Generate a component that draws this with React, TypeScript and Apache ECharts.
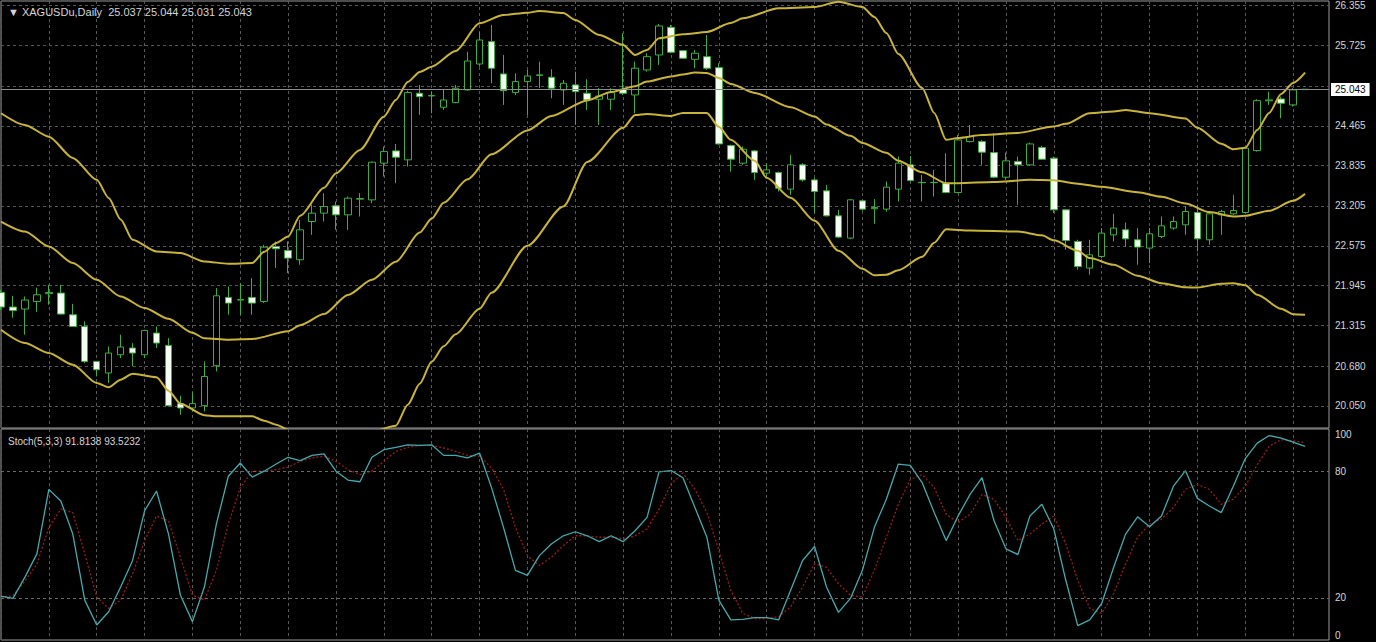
import React, { useEffect, useRef } from 'react';
import * as echarts from 'echarts';

const symbolName = 'XAGUSDu,Daily';

// Candles (index 0 .. 109), MT4 style OHLC
const opens = [
  21.84, 21.61, 21.578, 21.698, 21.82, 21.83, 21.488, 21.304, 20.753, 20.57,
  20.858, 20.964, 20.858, 21.2, 21.005, 20.087, 20.019, 20.055, 20.685, 21.761,
  21.72, 21.761, 21.698, 22.564, 22.501, 22.355, 22.958, 23.09, 23.205, 23.063,
  23.31, 23.299, 23.878, 24.071, 23.93, 24.98, 24.937, 24.759, 24.832, 25.032,
  25.441, 25.793, 25.284, 24.99, 25.163, 25.26, 25.232, 25.032, 25.111, 24.98,
  24.886, 24.886, 25.043, 24.953, 25.347, 25.583, 26.019, 25.651, 25.515, 25.556,
  25.383, 24.155, 23.878, 24.071, 23.72, 23.73, 23.468, 23.851, 23.614, 23.441,
  23.047, 22.696, 23.284, 23.16, 23.153, 23.468, 23.851, 23.57, 23.57, 23.562,
  23.414, 24.218, 24.218, 24.044, 23.657, 23.903, 23.851, 24.124, 23.956, 23.142,
  22.643, 22.224, 22.407, 22.748, 22.827, 22.67, 22.539, 22.722, 22.854, 22.906,
  23.1, 22.67, 23.063, 23.079, 23.1, 24.076, 24.86, 24.89, 24.796, 25.037,
];
const closes = [
  21.61, 21.556, 21.72, 21.803, 21.84, 21.499, 21.304, 20.753, 20.622, 20.885,
  20.98, 20.885, 21.241, 21.042, 20.055, 20.019, 20.087, 20.516, 21.787, 21.672,
  21.73, 21.672, 22.554, 22.528, 22.381, 22.827, 23.09, 23.194, 23.063, 23.326,
  23.32, 23.893, 24.06, 23.972, 24.99, 24.926, 24.945, 24.874, 25.059, 25.489,
  25.819, 25.374, 25.021, 25.163, 25.252, 25.27, 25.059, 25.137, 25.005, 24.874,
  24.937, 24.99, 24.98, 25.374, 25.556, 26.04, 25.626, 25.531, 25.61, 25.374,
  24.181, 23.94, 24.098, 23.73, 23.772, 23.484, 23.851, 23.614, 23.43, 23.047,
  22.712, 23.3, 23.153, 23.18, 23.5, 23.878, 23.603, 23.575, 23.575, 23.414,
  24.244, 24.297, 24.051, 23.657, 23.914, 23.851, 24.181, 23.94, 23.142, 22.658,
  22.249, 22.433, 22.775, 22.854, 22.685, 22.555, 22.764, 22.89, 22.958, 23.115,
  22.685, 23.079, 23.115, 23.131, 24.114, 24.863, 24.875, 24.822, 25.032, 25.043,
];
const lows = [
  21.56, 21.441, 21.173, 21.535, 21.646, 21.49, 21.294, 20.727, 20.516, 20.412,
  20.806, 20.674, 20.806, 20.964, 20.044, 19.913, 19.965, 19.965, 20.595, 21.488,
  21.488, 21.488, 21.672, 22.224, 22.145, 22.276, 22.748, 22.958, 22.827, 22.827,
  23.037, 23.247, 23.667, 23.563, 23.824, 24.638, 24.665, 24.717, 24.822, 25.021,
  25.399, 25.137, 24.796, 24.953, 24.638, 25.059, 24.901, 24.796, 24.481, 24.717,
  24.481, 24.717, 24.953, 24.665, 25.32, 25.426, 25.61, 25.52, 25.374, 25.347,
  24.166, 23.745, 23.851, 23.614, 23.667, 23.43, 23.378, 23.588, 23.09, 23.037,
  22.696, 22.68, 23.13, 22.922, 23.115, 23.273, 23.588, 23.273, 23.352, 23.405,
  23.405, 24.202, 23.851, 23.641, 23.614, 23.221, 23.835, 23.93, 23.09, 22.512,
  22.197, 22.118, 22.381, 22.643, 22.564, 22.276, 22.302, 22.696, 22.827, 22.748,
  22.485, 22.591, 22.748, 23.063, 23.09, 24.06, 24.796, 24.586, 24.769, 25.031,
];
const highs = [
  21.88, 21.787, 21.776, 21.913, 21.961, 21.96, 21.66, 21.383, 20.76, 20.989,
  21.173, 21.042, 21.252, 21.304, 21.121, 20.212, 20.264, 20.753, 21.909, 21.934,
  21.987, 22.066, 22.591, 22.643, 22.643, 22.984, 23.221, 23.405, 23.273, 23.351,
  23.405, 23.903, 24.139, 24.181, 25.021, 25.111, 25.005, 25.032, 25.111, 25.635,
  25.95, 26.056, 25.583, 25.295, 25.347, 25.478, 25.358, 25.189, 25.32, 25.2,
  25.059, 25.059, 25.925, 25.478, 25.61, 26.072, 26.056, 25.66, 25.662, 25.898,
  25.452, 24.17, 24.139, 24.087, 23.877, 23.745, 24.008, 23.877, 23.641, 23.536,
  23.142, 23.31, 23.3, 23.31, 23.588, 23.981, 23.993, 23.693, 23.772, 24.035,
  24.323, 24.481, 24.244, 24.35, 24.044, 23.981, 24.202, 24.15, 23.981, 23.153,
  22.67, 22.67, 22.854, 23.079, 22.942, 22.854, 22.854, 23.037, 23.037, 23.194,
  23.221, 23.115, 23.142, 23.378, 24.13, 24.885, 25.005, 24.926, 25.059, 25.044,
];

// Bollinger bands, read at sampled bar indices: [bar index, price]
const upperBand = [
  [0, 24.665], [2, 24.481], [4, 24.296], [6, 23.961], [8, 23.615], [9, 23.33], [10, 22.99],
  [11, 22.67], [13, 22.485], [15, 22.46], [17, 22.328], [19, 22.292], [21, 22.303],
  [22, 22.48], [23, 22.62], [24, 22.722], [25, 23.048], [27, 23.489], [28, 23.72],
  [30, 24.087], [32, 24.611], [33, 24.875], [34, 25.158], [35, 25.316], [36, 25.399],
  [38, 25.646], [40, 26.083], [42, 26.213], [44, 26.249], [45, 26.276], [47, 26.245],
  [48, 26.135], [50, 25.898], [52, 25.741], [53, 25.583], [54, 25.662], [55, 25.846],
  [57, 25.909], [59, 25.945], [61, 26.087], [62, 26.161], [65, 26.319], [68, 26.339],
  [70, 26.423], [72, 26.339], [73, 26.182], [74, 25.93], [75, 25.599], [77, 25.064],
  [78, 24.67], [79, 24.245], [80, 24.276], [82, 24.323], [85, 24.355], [88, 24.457],
  [89, 24.497], [91, 24.665], [93, 24.693], [94, 24.717], [96, 24.665], [99, 24.583],
  [100, 24.434], [102, 24.182], [103, 24.098], [104, 24.119], [105, 24.402], [106, 24.67],
  [107, 24.969], [108, 25.142], [109, 25.305],
];
const middleBand = [
  [0, 22.958], [2, 22.8], [4, 22.564], [6, 22.303], [8, 22.04], [10, 21.776], [12, 21.594],
  [14, 21.425], [16, 21.205], [17, 21.118], [19, 21.095], [21, 21.106], [24, 21.229],
  [25, 21.323], [27, 21.5], [29, 21.8], [31, 22.04], [33, 22.323], [35, 22.784], [36, 23.005],
  [37, 23.253], [39, 23.623], [41, 24.017], [44, 24.394], [46, 24.623], [49, 24.867],
  [51, 25.0], [53, 25.09], [54, 25.163], [56, 25.245], [57, 25.276], [58, 25.308], [59, 25.3],
  [60, 25.221], [61, 25.127], [63, 24.985], [66, 24.76], [68, 24.615], [69, 24.489],
  [71, 24.308], [72, 24.197], [74, 24.04], [75, 23.914], [77, 23.733], [79, 23.563],
  [80, 23.563], [83, 23.579], [86, 23.615], [88, 23.607], [90, 23.555], [92, 23.505],
  [95, 23.418], [97, 23.347], [99, 23.242], [101, 23.106], [103, 23.037], [104, 23.048],
  [106, 23.127], [108, 23.284], [109, 23.394],
];
const lowerBand = [
  [0, 21.252], [2, 21.043], [4, 20.885], [6, 20.7], [8, 20.413], [9, 20.347], [10, 20.465],
  [11, 20.559], [13, 20.504], [14, 20.292], [15, 20.087], [17, 19.906], [18, 19.887],
  [21, 19.887], [22, 19.819], [23, 19.756], [24, 19.677], [25, 19.598], [27, 19.488],
  [29, 19.567], [31, 19.646], [33, 19.74], [34, 20.07], [35, 20.4], [36, 20.75],
  [37, 20.992], [38, 21.181], [40, 21.583], [41, 21.835], [44, 22.575], [47, 23.194],
  [49, 23.898], [52, 24.434], [53, 24.638], [54, 24.654], [56, 24.623], [57, 24.67],
  [59, 24.67], [60, 24.45], [61, 24.245], [63, 23.914], [64, 23.646], [66, 23.331],
  [68, 22.969], [70, 22.497], [72, 22.213], [73, 22.11], [74, 22.119], [75, 22.189],
  [77, 22.402], [78, 22.623], [79, 22.835], [81, 22.816], [85, 22.8], [87, 22.741],
  [88, 22.662], [90, 22.497], [91, 22.381], [93, 22.276], [95, 22.103], [97, 21.985],
  [99, 21.921], [100, 21.918], [102, 21.977], [103, 21.985], [104, 21.953], [105, 21.803],
  [107, 21.583], [108, 21.497], [109, 21.489],
];

// Stochastic (5,3,3)
const stochMain = [
  20.8, 19.7, 29.8, 40.8, 71.4, 65.9, 50.2, 18.9, 7.1, 13.4,
  25.1, 37.7, 61.2, 70.6, 50.2, 21.2, 8.7, 25.1, 54.9, 77.6,
  83.9, 77.2, 80, 83.4, 86.6, 85.0, 87.5, 88.2, 80, 75.8,
  75, 86.6, 90.2, 91.3, 92.5, 92.2, 92.5, 87.5, 87.5, 86.3,
  88.6, 72.2, 53.4, 33, 30.6, 40, 45.5, 49.4, 51.3, 49.4,
  46.6, 49.4, 46.6, 51.8, 58.1, 79.7, 80.3, 76.9, 62.8, 48.7,
  18.9, 9.5, 9.8, 10.6, 10.6, 9.5, 23.6, 37.7, 44.3, 25.1,
  13.1, 19.7, 33, 53.4, 66.7, 83.4, 82.8, 74.5, 60.4, 47.1,
  58.8, 69, 76.9, 56.5, 43.2, 40.5, 58.8, 64.3, 52.6, 28.3,
  6.8, 9.5, 17.3, 34.5, 50.2, 58.4, 53.7, 58.8, 72.9, 80.3,
  67.1, 63.5, 60.4, 72.9, 86, 93.3, 96.9, 95.7, 93.8, 91.8138,
];
const stochSignal = [
  20, 21, 28, 36, 53.4, 62, 60.4, 40.8, 20.4, 15,
  18.9, 31.4, 47, 58.8, 56.5, 39.2, 21.2, 18.9, 33, 54.9,
  72.2, 80, 80, 80.8, 81.9, 84.7, 86.3, 87.1, 84.7, 80.8,
  78.4, 80, 84.7, 89.4, 91.3, 92.2, 92.2, 91, 89.4, 87.5,
  87.1, 81.6, 71.4, 53.4, 40, 35.3, 39.2, 44.7, 49.4, 49.4,
  48.7, 48.7, 47.9, 49.4, 52.6, 62, 74, 79.2, 71.4, 60.4,
  42.4, 23.6, 12.6, 10.2, 10.2, 11, 15.7, 25.1, 36.1, 34.5,
  26.7, 21.2, 20.4, 33, 48.7, 64.3, 76.1, 78.4, 72.2, 59.6,
  55.7, 59.6, 69, 66.7, 58.1, 47.1, 50.2, 54.9, 58.8, 45.5,
  28.3, 15, 12.6, 22, 36.1, 48.7, 54.9, 57.3, 62.8, 71.4,
  73.7, 71.4, 64.3, 66.7, 72.9, 83.1, 91.8, 94.9, 94.4, 93.5232,
];

// Axis ticks
const priceGridTicks = [26.355, 25.725, 25.095, 24.465, 23.835, 23.205, 22.575, 21.945, 21.315, 20.68, 20.05];
const priceLabelTicks = [26.355, 25.725, 24.465, 23.835, 23.205, 22.575, 21.945, 21.315, 20.68, 20.05];
const stochLabelTicks = [0, 20, 80, 100];
const stochLevels = [20, 80];
const emptyBarsRight = 2;

const GRID_COLOR = '#585858';
const BORDER_COLOR = '#9c9c9c';
const TEXT_COLOR = '#d6d6d6';
const BAND_COLOR = '#c8b43a';
const CANDLE_LINE = '#3fae3f';
const FONT = 'Liberation Sans, Arial, sans-serif';

function buildOption() {
  const n = opens.length;
  const categories = Array.from({ length: n + emptyBarsRight }, (_, i) => String(i));
  const candleData = opens.map((o, i) => [o, closes[i], lows[i], highs[i]]);
  const last = n - 1;
  const header = `${symbolName}  ${opens[last].toFixed(3)} ${highs[last].toFixed(3)} ${lows[last].toFixed(3)} ${closes[last].toFixed(3)}`;
  const stochHeader = `Stoch(5,3,3) ${stochMain[last].toFixed(4)} ${stochSignal[last].toFixed(4)}`;
  const lastPrice = closes[last];

  const xAxisBase = {
    type: 'category',
    data: categories,
    boundaryGap: false,
    axisLine: { show: false },
    axisTick: { show: false },
    axisLabel: { show: false },
    splitLine: { show: true, interval: 3, lineStyle: { color: GRID_COLOR, type: [3, 3], width: 1 } },
  };

  const bandSeries = (name: string, data: number[][], extra: any = {}) => ({
    name,
    type: 'line',
    xAxisIndex: 0,
    yAxisIndex: 0,
    data,
    showSymbol: false,
    smooth: 0.25,
    smoothMonotone: 'x',
    clip: true,
    silent: true,
    lineStyle: { color: BAND_COLOR, width: 2 },
    z: 4,
    ...extra,
  });

  return {
    animation: false,
    backgroundColor: '#000000',
    title: [
      {
        text: '▼ ' + header,
        left: 3,
        top: 1,
        textStyle: { color: TEXT_COLOR, fontSize: 11, fontWeight: 'normal', fontFamily: FONT },
      },
      {
        text: stochHeader,
        left: 3,
        top: 431,
        textStyle: { color: TEXT_COLOR, fontSize: 10, fontWeight: 'normal', fontFamily: FONT },
      },
    ],
    grid: [
      { left: 1, right: 47, top: 1, height: 427, show: true, borderColor: BORDER_COLOR, borderWidth: 1, backgroundColor: 'transparent' },
      { left: 1, right: 47, top: 429, height: 211, show: true, borderColor: BORDER_COLOR, borderWidth: 1, backgroundColor: 'transparent' },
    ],
    xAxis: [
      { ...xAxisBase, gridIndex: 0 },
      { ...xAxisBase, gridIndex: 1 },
    ],
    yAxis: [
      {
        type: 'value',
        gridIndex: 0,
        position: 'right',
        min: 19.7032,
        max: 26.4338,
        scale: true,
        axisLine: { show: false },
        axisTick: { show: false },
        splitLine: { show: false },
        axisLabel: {
          customValues: priceLabelTicks,
          formatter: (v: number) => v.toFixed(3),
          color: TEXT_COLOR,
          fontSize: 10,
          fontFamily: FONT,
          margin: 6,
        },
      },
      {
        type: 'value',
        gridIndex: 1,
        position: 'right',
        min: 0,
        max: 100,
        axisLine: { show: false },
        axisTick: { show: false },
        splitLine: { show: false },
        axisLabel: {
          customValues: stochLabelTicks,
          color: TEXT_COLOR,
          fontSize: 10,
          fontFamily: FONT,
          margin: 6,
          verticalAlignMinLabel: 'bottom',
          verticalAlignMaxLabel: 'top',
        },
      },
    ],
    series: [
      {
        name: 'price',
        type: 'candlestick',
        xAxisIndex: 0,
        yAxisIndex: 0,
        data: candleData,
        barWidth: 7,
        clip: true,
        silent: true,
        z: 3,
        itemStyle: {
          color: '#000000',
          color0: '#f3fff0',
          borderColor: CANDLE_LINE,
          borderColor0: CANDLE_LINE,
          borderWidth: 1,
        },
        markLine: {
          silent: true,
          symbol: 'none',
          animation: false,
          data: [{ yAxis: lastPrice }],
          lineStyle: { color: '#8e8e8e', type: 'solid', width: 1 },
          label: {
            show: true,
            position: 'end',
            distance: 2,
            formatter: () => lastPrice.toFixed(3),
            backgroundColor: '#ffffff',
            color: '#000000',
            fontSize: 10,
            fontFamily: FONT,
            padding: [2, 4, 1, 4],
          },
        },
      },
      bandSeries('upper', upperBand),
      bandSeries('middle', middleBand, {
        markLine: {
          silent: true,
          symbol: 'none',
          animation: false,
          z: 1,
          data: priceGridTicks.map((v) => ({ yAxis: v })),
          lineStyle: { color: GRID_COLOR, type: [3, 3], width: 1 },
          label: { show: false },
        },
      }),
      bandSeries('lower', lowerBand),
      {
        name: 'stochMain',
        type: 'line',
        xAxisIndex: 1,
        yAxisIndex: 1,
        data: stochMain,
        showSymbol: false,
        silent: true,
        z: 4,
        lineStyle: { color: '#46a9ad', width: 1.3 },
        markLine: {
          silent: true,
          symbol: 'none',
          animation: false,
          data: stochLevels.map((v) => ({ yAxis: v })),
          lineStyle: { color: '#6a6a6a', type: [3, 3], width: 1 },
          label: { show: false },
        },
      },
      {
        name: 'stochSignal',
        type: 'line',
        xAxisIndex: 1,
        yAxisIndex: 1,
        data: stochSignal,
        showSymbol: false,
        silent: true,
        z: 3,
        lineStyle: { color: '#9a1d1d', width: 1.3, type: [2, 2] },
      },
    ],
  };
}

export default function App() {
  const ref = useRef<HTMLDivElement>(null);
  useEffect(() => {
    document.body.style.margin = '0';
    document.body.style.background = '#000';
    const chart = echarts.init(ref.current as HTMLDivElement, undefined, { renderer: 'svg' });
    chart.setOption(buildOption() as any);
    return () => chart.dispose();
  }, []);
  return (
    <div
      ref={ref}
      style={{ position: 'fixed', left: 0, top: 0, width: 1376, height: 642, background: '#000' }}
    />
  );
}
